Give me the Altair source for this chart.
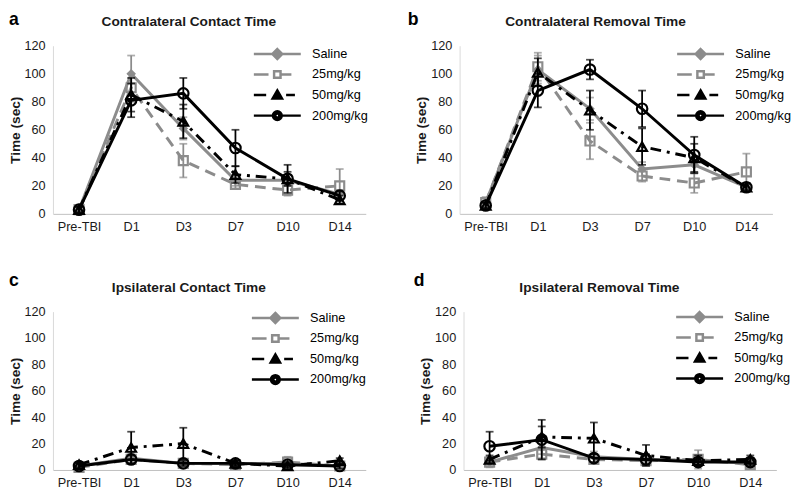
import altair as alt
import pandas as pd

FONT = "Liberation Sans"
GREY = "#8c8c8c"

days = ["Pre-TBI", "D1", "D3", "D7", "D10", "D14"]
series = ["Saline", "25mg/kg", "50mg/kg", "200mg/kg"]

# Panel a - Contralateral Contact Time (mean, error)
a_saline = [3, 100, 61, 24, 24, 14]
a_25 = [3, 90, 38, 21, 17, 20]
a_50 = [3, 85, 66, 28, 25, 10]
a_200 = [3, 81, 86, 47, 25, 13]
a_saline_err = [2, 13, 8, 4, 4, 3]
a_25_err = [2, 10, 12, 3, 4, 12]
a_50_err = [2, 12, 12, 6, 5, 3]
a_200_err = [2, 12, 11, 13, 10, 3]

# Panel b - Contralateral Removal Time
b_saline = [8, 103, 75, 32, 35, 19]
b_25 = [8, 105, 52, 27, 22, 30]
b_50 = [6, 101, 74, 48, 40, 19]
b_200 = [6, 88, 103, 75, 42, 19]
b_saline_err = [3, 10, 8, 5, 6, 3]
b_25_err = [4, 10, 13, 4, 7, 13]
b_50_err = [2, 10, 14, 13, 10, 3]
b_200_err = [2, 12, 7, 13, 13, 2]

# Panel c - Ipsilateral Contact Time
c_saline = [3, 9, 5, 5, 5, 3]
c_25 = [2, 8, 5, 4, 6, 3]
c_50 = [4, 17, 20, 5, 3, 7]
c_200 = [3, 8, 5, 5, 4, 3]
c_saline_err = [2, 4, 3, 2, 3, 2]
c_25_err = [2, 3, 2, 2, 4, 2]
c_50_err = [2, 12, 12, 2, 2, 2]
c_200_err = [2, 3, 2, 2, 2, 2]

# Panel d - Ipsilateral Removal Time
d_saline = [6, 17, 10, 8, 7, 5]
d_25 = [6, 12, 8, 7, 8, 4]
d_50 = [8, 25, 24, 11, 7, 8]
d_200 = [18, 23, 9, 8, 6, 6]
d_saline_err = [4, 5, 4, 3, 4, 3]
d_25_err = [3, 4, 3, 3, 7, 3]
d_50_err = [3, 8, 12, 8, 4, 3]
d_200_err = [11, 15, 3, 4, 3, 3]

style = {
    "Saline": dict(color=GREY, dash=None, shape="diamond", filled=True, size=95),
    "25mg/kg": dict(color=GREY, dash=[11, 7], shape="square", filled=False, size=85),
    "50mg/kg": dict(color="black", dash=[11, 6, 3, 6], shape="triangle-up", filled=False, size=100),
    "200mg/kg": dict(color="black", dash=None, shape="circle", filled=False, size=115),
}
legend_colors = [GREY, GREY, "black", "black"]
legend_paths = [
    "M-4,0H4M0,-0.85L0.85,0L0,0.85L-0.85,0ZM0,-0.4L0.4,0L0,0.4L-0.4,0Z",
    "M-4,0H-1.5M-0.55,-0.55H0.55V0.55H-0.55ZM0.55,0H2.4M4,0",
    "M-4,0H-1.9M0,-0.8L0.8,0.6H-0.8ZM0,-0.3L0.35,0.35H-0.35ZM1.5,0H3M4,0",
    "M-4,0H-0.75M0.75,0H4M0.75,0A0.75,0.75,0,1,1,-0.75,0A0.75,0.75,0,1,1,0.75,0"
    "M0.35,0A0.35,0.35,0,1,1,-0.35,0A0.35,0.35,0,1,1,0.35,0",
]

xaxis = alt.Axis(title=None, labelAngle=0, ticks=False, grid=False, domainColor="#bfbfbf",
                 labelFont=FONT, labelFontSize=13, labelColor="#1a1a1a", labelPadding=7)
yaxis = alt.Axis(title="Time (sec)", values=[0, 20, 40, 60, 80, 100, 120], ticks=False, grid=False,
                 domainColor="#d9d9d9", labelFont=FONT, labelFontSize=13, labelColor="#1a1a1a",
                 labelPadding=8, titlePadding=2, titleFont=FONT, titleFontSize=14,
                 titleFontWeight="bold", titleColor="#1a1a1a")
yscale = alt.Scale(domain=[0, 120], nice=False)
xscale = alt.Scale(type="point", padding=0.5)


def panel(means, errs, title, letter, height, leg_x, leg_y, letter_x, letter_y):
    rows = []
    for s in series:
        for d, m, e in zip(days, means[s], errs[s]):
            rows.append(dict(day=d, series=s, value=m, lo=max(m - e, 0), hi=m + e))
    df = pd.DataFrame(rows)
    x = alt.X("day:N", sort=days, scale=xscale, axis=xaxis)

    def Y(f):
        return alt.Y(f + ":Q", scale=yscale, axis=yaxis)

    layers = []
    for s in series:
        st = style[s]
        base = alt.Chart(df[df.series == s])
        lk = dict(color=st["color"], strokeWidth=3)
        if st["dash"]:
            lk["strokeDash"] = st["dash"]
        layers.append(base.mark_line(**lk).encode(x=x, y=Y("value")))
        layers.append(base.mark_rule(color=st["color"], strokeWidth=1.8).encode(x=x, y=Y("lo"), y2="hi:Q"))
        layers.append(base.mark_tick(color=st["color"], thickness=1.8, size=8).encode(x=x, y=Y("lo")))
        layers.append(base.mark_tick(color=st["color"], thickness=1.8, size=8).encode(x=x, y=Y("hi")))
        layers.append(base.mark_point(shape=st["shape"], size=st["size"], filled=st["filled"],
                                      color=st["color"], strokeWidth=2.2, opacity=1)
                      .encode(x=x, y=Y("value")))
    leg = alt.Legend(title=None, orient="none", legendX=leg_x, legendY=leg_y, labelFont=FONT,
                     labelFontSize=13, labelColor="black", labelOffset=28, symbolSize=144,
                     symbolStrokeWidth=2.5, rowPadding=2, padding=0, symbolOpacity=1)
    layers.append(
        alt.Chart(df).transform_filter("false").mark_point(filled=False, strokeWidth=2.5, opacity=1)
        .encode(x=x, y=Y("value"),
                color=alt.Color("series:N", scale=alt.Scale(domain=series, range=legend_colors), legend=leg),
                shape=alt.Shape("series:N", scale=alt.Scale(domain=series, range=legend_paths), legend=leg))
    )
    layers.append(
        alt.Chart(pd.DataFrame({"t": [title]})).mark_text(font=FONT, fontSize=14, fontWeight="bold",
                                                           align="center", baseline="middle", color="#1a1a1a")
        .encode(text="t:N", x=alt.value(139), y=alt.value(-24))
    )
    layers.append(
        alt.Chart(pd.DataFrame({"t": [letter]})).mark_text(font=FONT, fontSize=18, fontWeight="bold",
                                                            align="left", baseline="alphabetic", color="black")
        .encode(text="t:N", x=alt.value(letter_x), y=alt.value(letter_y))
    )
    return alt.layer(*layers).properties(width=320, height=height)


pa = panel({"Saline": a_saline, "25mg/kg": a_25, "50mg/kg": a_50, "200mg/kg": a_200},
           {"Saline": a_saline_err, "25mg/kg": a_25_err, "50mg/kg": a_50_err, "200mg/kg": a_200_err},
           "Contralateral Contact Time", "a", 172, 222, 1, -45, -21)
pb = panel({"Saline": b_saline, "25mg/kg": b_25, "50mg/kg": b_50, "200mg/kg": b_200},
           {"Saline": b_saline_err, "25mg/kg": b_25_err, "50mg/kg": b_50_err, "200mg/kg": b_200_err},
           "Contralateral Removal Time", "b", 172, 239, 1, -53, -21)
pc = panel({"Saline": c_saline, "25mg/kg": c_25, "50mg/kg": c_50, "200mg/kg": c_200},
           {"Saline": c_saline_err, "25mg/kg": c_25_err, "50mg/kg": c_50_err, "200mg/kg": c_200_err},
           "Ipsilateral Contact Time", "c", 162, 220, -1, -45, -26)
pd_ = panel({"Saline": d_saline, "25mg/kg": d_25, "50mg/kg": d_50, "200mg/kg": d_200},
            {"Saline": d_saline_err, "25mg/kg": d_25_err, "50mg/kg": d_50_err, "200mg/kg": d_200_err},
            "Ipsilateral Removal Time", "d", 162, 234, -2, -51, -26)

ind = dict(color="independent", shape="independent")
row1 = alt.hconcat(pa, pb, spacing=40).resolve_scale(**ind).resolve_legend(**ind)
row2 = alt.hconcat(pc, pd_, spacing=48).resolve_scale(**ind).resolve_legend(**ind)
chart = (alt.vconcat(row1, row2, spacing=40).resolve_scale(**ind).resolve_legend(**ind)
         .properties(padding={"top": -2, "left": 0, "right": 0, "bottom": 0})
         .configure_view(stroke=None))

chart.save("out.html", embed_options={"renderer": "svg", "actions": False})
